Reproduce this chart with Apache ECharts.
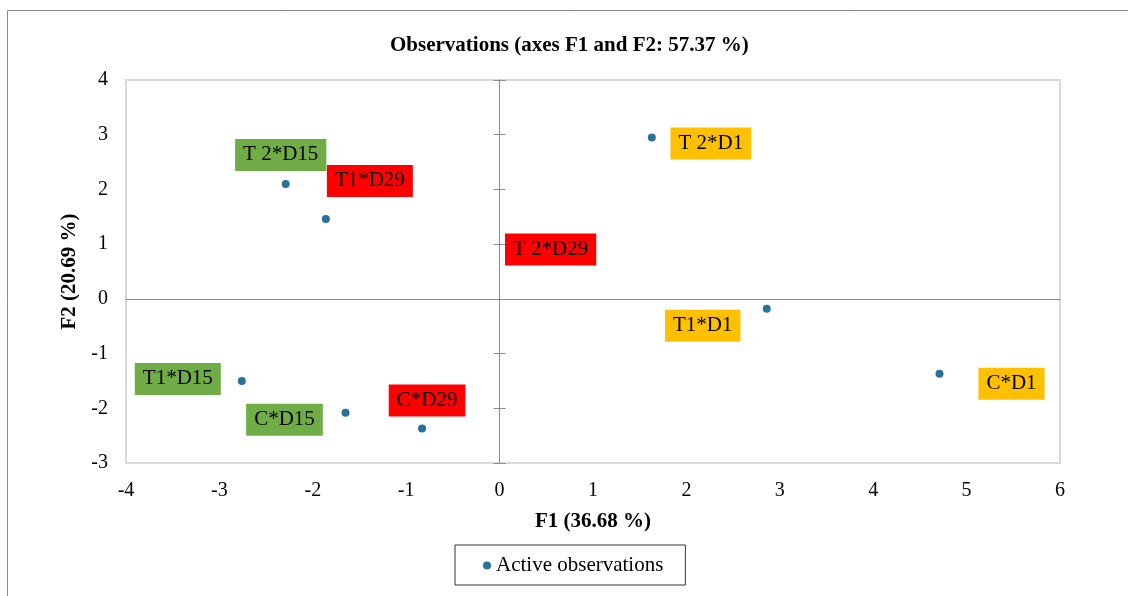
<!DOCTYPE html>
<html>
<head>
<meta charset="utf-8">
<title>Observations (axes F1 and F2)</title>
<script src="https://cdn.jsdelivr.net/npm/echarts@6/dist/echarts.min.js"></script>
<style>
  html, body { margin: 0; padding: 0; background: #fff; }
  #main { width: 1128px; height: 596px; }
</style>
</head>
<body>
<div id="main"></div>
<script>
// observations (F1, F2 factor scores)
var names = ['T 2*D1', 'T1*D1', 'C*D1', 'T 2*D15', 'T1*D29', 'T1*D15', 'C*D15', 'C*D29', 'T 2*D29']
var f1 = [1.63, 2.86, 4.71, -2.29, -1.86, -2.76, -1.65, -0.83, 0.45]
var f2 = [2.95, -0.18, -1.37, 2.10, 1.46, -1.50, -2.08, -2.37, 0.90]
var xTicks = [-4, -3, -2, -1, 0, 1, 2, 3, 4, 5, 6]
var yTicks = [-3, -2, -1, 0, 1, 2, 3, 4]

// label placement around each point (px), same order as names
var labelOffsets = [[59, 6], [-64, 17], [72, 10], [-5, -29], [44, -38], [-64, -2], [-61, 7], [5, -28], [9, 0]]

function labelColor(name) {
  if (/D1$/.test(name)) return '#FFC000'
  if (/D15$/.test(name)) return '#70AD47'
  return '#FF0000'
}

var serif = '"Liberation Serif", "Times New Roman", serif'
var axisGray = '#8c8c8c'
var gridLeft = 126

// axis drawn through the origin, no labels
function zeroAxis(ticks, pos, showTick, zeroOf) {
  return {
    type: 'value',
    position: pos,
    min: ticks[0],
    max: ticks[ticks.length - 1],
    interval: 1,
    axisLine: { show: true, onZero: true, onZeroAxisIndex: zeroOf, lineStyle: { color: axisGray, width: 1 } },
    axisTick: { show: showTick, length: 6, lineStyle: { color: axisGray } },
    axisLabel: { show: false },
    splitLine: { show: false }
  }
}

var myChart = echarts.init(document.getElementById('main'))
myChart.setOption({
  animation: false,
  title: {
    text: 'Observations (axes F1 and F2: 57.37 %)',
    left: 385,
    top: 30,
    textStyle: { fontFamily: serif, fontWeight: 'bold', fontSize: 21, color: '#000' }
  },
  graphic: [{
    type: 'rect',
    shape: { x: 7.5, y: 10.5, width: 1200, height: 700 },
    style: { fill: 'none', stroke: '#8a8a8a', lineWidth: 1 },
    silent: true
  }],
  legend: {
    left: 455,
    top: 545,
    padding: [10, 22, 9, 28],
    borderColor: '#333',
    borderWidth: 1,
    borderRadius: 0,
    itemWidth: 8,
    itemHeight: 8,
    itemGap: 5,
    icon: 'circle',
    textStyle: { fontFamily: serif, fontSize: 21, color: '#000' },
    data: ['Active observations']
  },
  grid: {
    left: gridLeft,
    right: 68,
    top: 80,
    bottom: 133,
    show: true,
    borderColor: '#D9D9D9',
    borderWidth: 2,
    backgroundColor: 'transparent'
  },
  xAxis: [{
    type: 'value',
    position: 'bottom',
    min: xTicks[0],
    max: xTicks[xTicks.length - 1],
    interval: 1,
    name: 'F1 (36.68 %)',
    nameLocation: 'middle',
    nameGap: 48,
    nameTextStyle: { fontFamily: serif, fontWeight: 'bold', fontSize: 21, color: '#000' },
    axisLine: { show: false, onZero: false },
    axisTick: { show: false },
    axisLabel: { margin: 18, fontFamily: serif, fontSize: 20, color: '#000' },
    splitLine: { show: false }
  }, zeroAxis(xTicks, 'top', false, 1)],
  yAxis: [{
    type: 'value',
    position: 'left',
    min: yTicks[0],
    max: yTicks[yTicks.length - 1],
    interval: 1,
    name: 'F2 (20.69 %)',
    nameLocation: 'middle',
    nameGap: 44,
    nameTextStyle: { fontFamily: serif, fontWeight: 'bold', fontSize: 21, color: '#000' },
    axisLine: { show: false, onZero: false },
    axisTick: { show: false },
    axisLabel: { margin: 18, fontFamily: serif, fontSize: 20, color: '#000' },
    splitLine: { show: false }
  }, zeroAxis(yTicks, 'left', true, 0), {
    // right half of the crossing ticks on the vertical zero line
    type: 'value',
    position: 'left',
    min: yTicks[0],
    max: yTicks[yTicks.length - 1],
    interval: 1,
    axisLine: { show: false, onZero: false },
    axisTick: { show: true, inside: true, length: 6, lineStyle: { color: axisGray } },
    axisLabel: { show: false },
    splitLine: { show: false }
  }],
  series: [{
    name: 'Active observations',
    type: 'scatter',
    xAxisIndex: 0,
    yAxisIndex: 0,
    symbol: 'circle',
    symbolSize: 8,
    itemStyle: { color: '#2B7096', opacity: 1 },
    z: 5,
    data: names.map(function (n, i) {
      return {
        name: n,
        value: [f1[i], f2[i]],
        label: {
          show: true,
          position: 'inside',
          offset: labelOffsets[i],
          formatter: '{b}',
          backgroundColor: labelColor(n),
          padding: [6, 8, 5, 8],
          fontFamily: serif,
          fontSize: 21,
          color: '#000'
        }
      }
    })
  }]
})

// move the extra tick axis onto x = 0
var zeroX = myChart.convertToPixel({ xAxisIndex: 0 }, 0)
myChart.setOption({ yAxis: [{}, {}, { offset: gridLeft - zeroX }] })

window.addEventListener('resize', function () {
  myChart.resize()
})
</script>
</body>
</html>
